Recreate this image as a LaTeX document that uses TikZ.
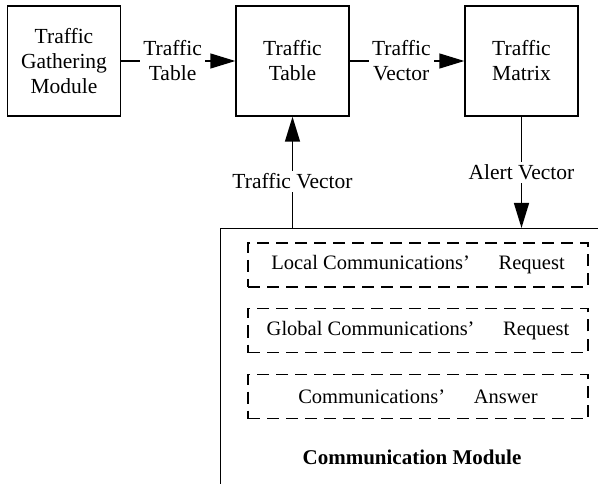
\documentclass[tikz,border=0pt]{standalone}
\usepackage{fontspec}
\setmainfont{Liberation Serif}
\usetikzlibrary{arrows.meta}

\tikzset{
  modbox/.style={draw, line width=1.4pt, minimum width=113pt, minimum height=110pt, align=center, inner sep=2pt},
  msgbox/.style={draw, line width=1.1pt, dash pattern=on 12pt off 7pt, minimum width=340pt, minimum height=44pt, inner sep=0pt, font=\fontsize{20.5}{25}\selectfont},
  flow/.style={line width=1.4pt, -{Triangle[length=25pt,width=15pt]}},
  lbl/.style={fill=white, align=center, inner sep=3pt}
}

\begin{document}
\begin{tikzpicture}[x=1pt,y=-1pt,font=\fontsize{21.5}{25}\selectfont]
\useasboundingbox (0,0) rectangle (598,484);

% modules in the top row
\node[modbox] (gather) at (64,61) {Traffic\\Gathering\\Module};
\node[modbox] (table) at (292.5,61) {Traffic\\Table};
\node[modbox] (matrix) at (521.5,61) {Traffic\\Matrix};

% communication module, cut by the page edge
\node[draw, line width=1.4pt, minimum width=390pt, minimum height=272pt, anchor=north west] (comm) at (220,228) {};
\node[msgbox] (local) at (418,265) {Local Communications’\hspace{1.4em}Request};
\node[msgbox] (global) at (418,330.5) {Global Communications’\hspace{1.4em}Request};
\node[msgbox] (answer) at (418,396.5) {Communications’\hspace{1.4em}Answer};
\node[font=\fontsize{21}{25}\selectfont\bfseries] (commlbl) at (412,457) {Communication Module};

\draw[flow] (gather) -- (table) node[lbl,pos=0.45] {Traffic\\Table};
\draw[flow] (table) -- (matrix) node[lbl,pos=0.45] {Traffic\\Vector};
\draw[flow] (comm.north -| table.south) -- (table.south) node[lbl,pos=0.42] {Traffic Vector};
\draw[flow] (matrix.south) -- (matrix.south |- comm.north) node[lbl,pos=0.5] {Alert Vector};
\end{tikzpicture}
\end{document}
